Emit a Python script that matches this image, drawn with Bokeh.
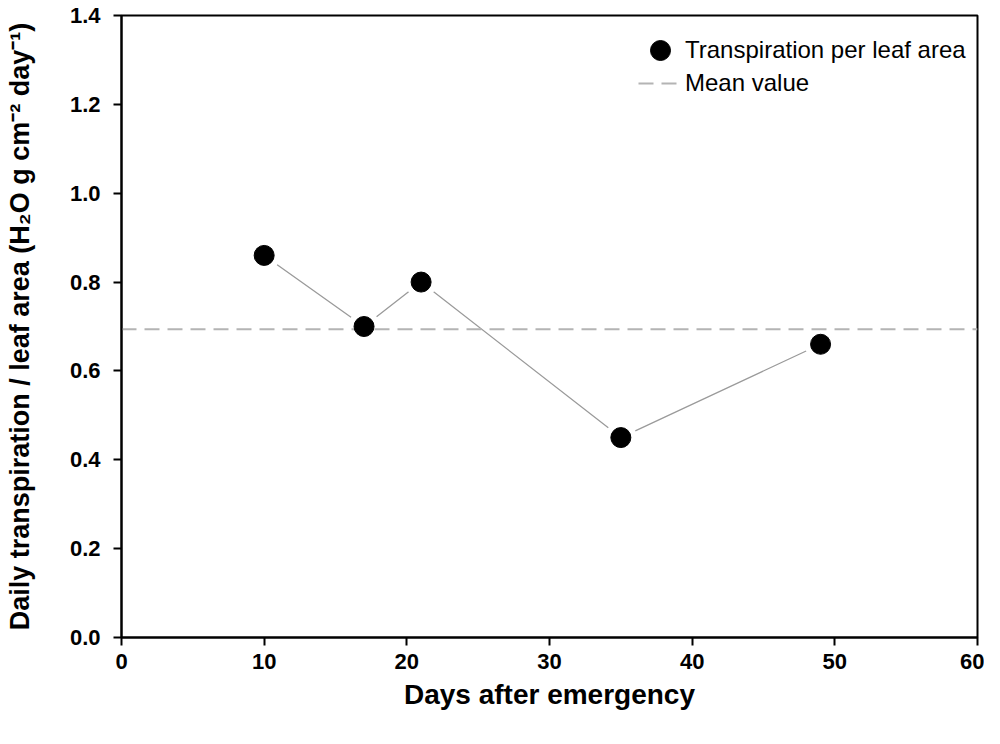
from bokeh.plotting import figure
from bokeh.models import Range1d, Legend, LegendItem, FixedTicker, CustomJSTickFormatter
from bokeh.embed import file_html
from bokeh.resources import INLINE

days = [10, 17, 21, 35, 49]
transpiration = [0.86, 0.70, 0.80, 0.45, 0.66]
x_ticks = [0, 10, 20, 30, 40, 50, 60]
y_ticks = [0.0, 0.2, 0.4, 0.6, 0.8, 1.0, 1.2, 1.4]

mean_val = sum(transpiration) / len(transpiration)

FONT = "Liberation Sans"

p = figure(width=984, height=728, output_backend="svg", toolbar_location=None,
           x_range=Range1d(0, 60), y_range=Range1d(0, 1.4),
           min_border_left=121, min_border_right=7, min_border_top=15, min_border_bottom=91)

p.xgrid.visible = False
p.ygrid.visible = False
p.outline_line_color = "black"
p.outline_line_width = 2
p.background_fill_color = "white"
p.border_fill_color = "white"

for ax in (p.xaxis[0], p.yaxis[0]):
    ax.axis_line_width = 2
    ax.axis_line_color = "black"
    ax.major_tick_line_width = 2
    ax.major_tick_in = 0
    ax.major_tick_out = 8
    ax.minor_tick_line_color = None
    ax.major_label_text_font = FONT
    ax.major_label_text_font_style = "bold"
    ax.major_label_text_font_size = "22px"
    ax.major_label_text_color = "black"
    ax.axis_label_text_font = FONT
    ax.axis_label_text_font_style = "bold"
    ax.axis_label_text_color = "black"

p.xaxis.ticker = FixedTicker(ticks=x_ticks)
p.yaxis.ticker = FixedTicker(ticks=y_ticks)
p.yaxis.formatter = CustomJSTickFormatter(code="return tick.toFixed(1);")
p.xaxis.major_label_standoff = 8
p.yaxis.major_label_standoff = 13

p.xaxis.axis_label = "Days after emergency"
p.xaxis.axis_label_text_font_size = "28px"
p.xaxis.axis_label_standoff = 7
p.yaxis.axis_label = "Daily transpiration / leaf area (H\u2082O g cm\u207b\u00b2 day\u207b\u00b9)"
p.yaxis.axis_label_text_font_size = "27px"
p.yaxis.axis_label_standoff = 32

# connecting line
p.line(days, transpiration, line_color="#9a9a9a", line_width=1.3)
# white halo to leave a gap between line and markers
p.scatter(days, transpiration, size=32, marker="circle", fill_color="white", line_color=None)
# mean line
mean_r = p.line([x_ticks[0], x_ticks[-1]], [mean_val, mean_val], line_color="#b4b4b4",
                line_width=2, line_dash="15 8")
pts = p.scatter(days, transpiration, size=20, marker="circle", fill_color="black", line_color="black")


def make_legend(label, renderer, loc, gw, standoff):
    lg = Legend(items=[LegendItem(label=label, renderers=[renderer])], location=loc)
    lg.label_text_font = FONT
    lg.label_text_font_size = "24px"
    lg.label_text_color = "black"
    lg.border_line_color = None
    lg.background_fill_alpha = 0
    lg.glyph_width = gw
    lg.glyph_height = 50
    lg.label_height = 50
    lg.spacing = 0
    lg.label_standoff = standoff
    lg.margin = 0
    lg.padding = 0
    return lg


p.add_layout(make_legend("Transpiration per leaf area", pts, (514, 562), 50, 0))
p.add_layout(make_legend("Mean value", mean_r, (517, 529), 41, 6))

open("out.html", "w").write(file_html(p, INLINE))
